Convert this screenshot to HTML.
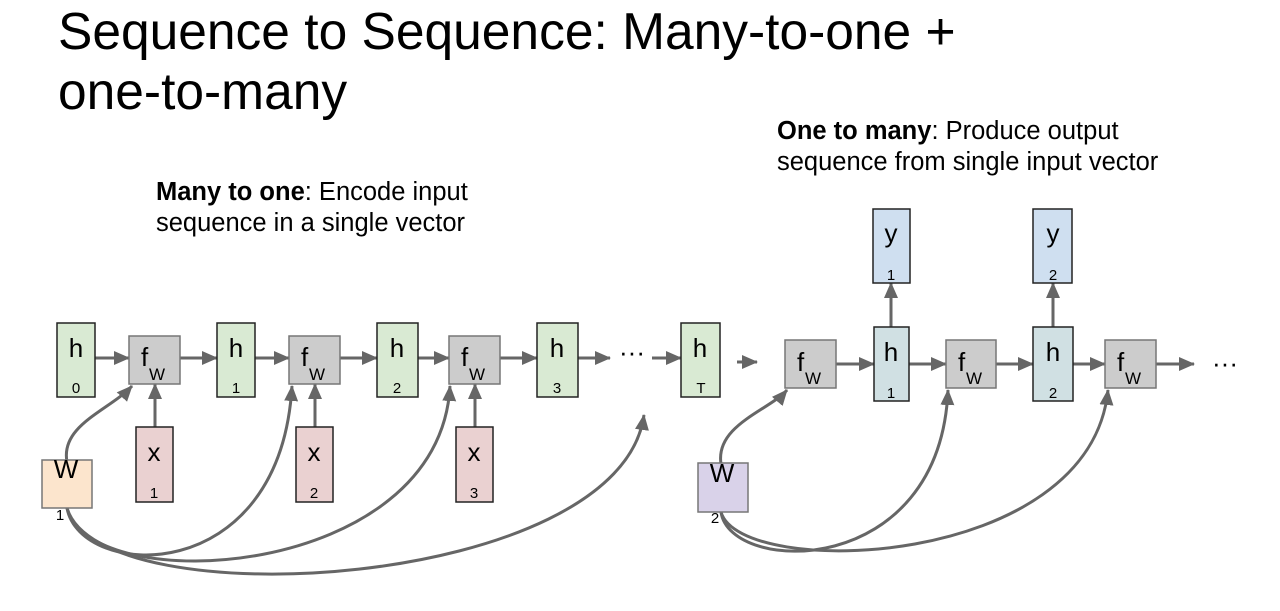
<!DOCTYPE html>
<html><head><meta charset="utf-8"><style>
body{margin:0;background:#fff;width:1280px;height:611px;overflow:hidden;font-family:"Liberation Sans",sans-serif;}
.t{position:absolute;left:58px;top:1px;font-size:51.5px;line-height:60px;color:#000;}
.c{position:absolute;font-size:25.5px;line-height:31px;color:#000;}
</style></head><body>
<div class="t">Sequence to Sequence: Many-to-one +<br>one-to-many</div>
<div class="c" style="left:156px;top:177px"><b>Many to one</b>: Encode input<br>sequence in a single vector</div>
<div class="c" style="left:777px;top:116px"><b>One to many</b>: Produce output<br>sequence from single input vector</div>
<svg width="1280" height="611" style="position:absolute;left:0;top:0" font-family="Liberation Sans, sans-serif">
<defs>
<marker id="b" markerWidth="16" markerHeight="16" refX="15" refY="8" orient="auto" markerUnits="userSpaceOnUse" viewBox="0 0 16 16"><path d="M0,1L16,8L0,15z" fill="#666"/></marker></defs>
<g stroke="#666" stroke-width="3" fill="none" marker-end="url(#b)">
<line x1="95" y1="358" x2="129" y2="358"/><line x1="180" y1="358" x2="217" y2="358"/>
<line x1="255" y1="358" x2="289" y2="358"/><line x1="340" y1="358" x2="377" y2="358"/>
<line x1="418" y1="358" x2="449" y2="358"/><line x1="500" y1="358" x2="537" y2="358"/>
<line x1="578" y1="358" x2="610" y2="358"/><line x1="652" y1="358" x2="681" y2="358"/>
<line x1="737" y1="362" x2="757" y2="362"/>
<line x1="155" y1="427" x2="155" y2="384"/><line x1="315" y1="427" x2="315" y2="384"/><line x1="475" y1="427" x2="475" y2="384"/>
<line x1="836" y1="364" x2="874" y2="364"/><line x1="909" y1="364" x2="946" y2="364"/>
<line x1="996" y1="364" x2="1033" y2="364"/><line x1="1073" y1="364" x2="1105" y2="364"/>
<line x1="1156" y1="364" x2="1194" y2="364"/>
<line x1="891" y1="327" x2="891" y2="283"/><line x1="1053" y1="327" x2="1053" y2="283"/>
<path d="M67,462 C60,425 110,410 132,386"/>
<path d="M67,508 C80,580 280,590 292,386"/>
<path d="M67,508 C90,600 440,580 450,386"/>
<path d="M67,508 C100,620 620,590 644,415"/>
<path d="M721,464 C715,425 770,410 787,390"/>
<path d="M721,512 C730,575 940,580 948,390"/>
<path d="M721,512 C740,580 1090,570 1108,390"/>
</g>
<g stroke="#222" stroke-width="1.5">
<rect x="57" y="323" width="38" height="74" fill="#d9ead3"/>
<rect x="217" y="323" width="38" height="74" fill="#d9ead3"/>
<rect x="377" y="323" width="41" height="74" fill="#d9ead3"/>
<rect x="537" y="323" width="41" height="74" fill="#d9ead3"/>
<rect x="681" y="323" width="39" height="74" fill="#d9ead3"/>
<rect x="136" y="427" width="37" height="75" fill="#ead1d1"/>
<rect x="296" y="427" width="37" height="75" fill="#ead1d1"/>
<rect x="456" y="427" width="37" height="75" fill="#ead1d1"/>
<rect x="874" y="327" width="35" height="74" fill="#d0e0e3"/>
<rect x="1033" y="327" width="40" height="74" fill="#d0e0e3"/>
<rect x="873" y="209" width="37" height="74" fill="#cfdff0"/>
<rect x="1033" y="209" width="39" height="74" fill="#cfdff0"/>
</g>
<g stroke="#777" stroke-width="1.5" fill="#cccccc">
<rect x="129" y="336" width="51" height="48"/><rect x="289" y="336" width="51" height="48"/><rect x="449" y="336" width="51" height="48"/>
<rect x="785" y="340" width="51" height="48"/><rect x="946" y="340" width="50" height="48"/><rect x="1105" y="340" width="51" height="48"/>
<rect x="42" y="460" width="50" height="48" fill="#fce5cd"/>
<rect x="698" y="463" width="50" height="49" fill="#d9d2e9"/>
</g>
<g font-size="26" text-anchor="middle" fill="#000">
<text x="76" y="357">h</text><text x="236" y="357">h</text><text x="397" y="357">h</text><text x="557" y="357">h</text><text x="700" y="357">h</text>
<text x="891" y="361">h</text><text x="1053" y="361">h</text>
<text x="891" y="242">y</text><text x="1053" y="242">y</text>
<text x="154" y="461">x</text><text x="314" y="461">x</text><text x="474" y="461">x</text>
<text x="66" y="478">W</text><text x="722" y="482">W</text>
<text x="632" y="361">···</text><text x="1225" y="372">···</text>
</g>
<g font-size="26" fill="#000"><text x="141" y="366">f</text><text x="301" y="366">f</text><text x="461" y="366">f</text><text x="797" y="371">f</text><text x="958" y="371">f</text><text x="1117" y="371">f</text></g>
<g font-size="17" fill="#000"><text x="149" y="380">W</text><text x="309" y="380">W</text><text x="469" y="380">W</text><text x="805" y="384">W</text><text x="966" y="384">W</text><text x="1125" y="384">W</text></g>
<g font-size="15" text-anchor="middle" fill="#000">
<text x="76" y="393">0</text><text x="236" y="393">1</text><text x="397" y="393">2</text><text x="557" y="393">3</text><text x="701" y="393">T</text>
<text x="891" y="398">1</text><text x="1053" y="398">2</text><text x="891" y="280">1</text><text x="1053" y="280">2</text>
<text x="154" y="498">1</text><text x="314" y="498">2</text><text x="474" y="498">3</text>
<text x="60" y="520">1</text><text x="715" y="523">2</text>
</g>
</svg>
</body></html>
